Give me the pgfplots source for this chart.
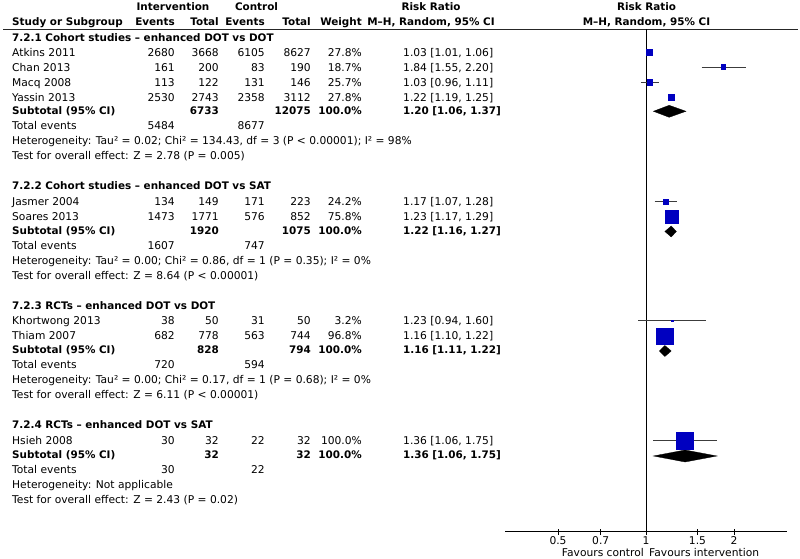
\documentclass[border=0pt]{standalone}
\usepackage{pgfplots}
\pgfplotsset{compat=1.18}
\usepackage{fontspec}
\setmainfont{DejaVu Sans}
\definecolor{rmblue}{RGB}{0,0,192}
\definecolor{cigray}{RGB}{60,60,60}
\newcommand{\fs}{\fontsize{10.7bp}{12bp}\selectfont}
\newcommand{\fb}{\fontsize{10.4bp}{12bp}\selectfont\bfseries}
\newcommand{\study}[8]{%
  \node[tl] at (12,#1) {#2};
  \node[tr] at (175,#1) {#3};
  \node[tr] at (219,#1) {#4};
  \node[tr] at (265,#1) {#5};
  \node[tr] at (311,#1) {#6};
  \node[tr] at (362,#1) {#7};
  \node[tl] at (403,#1) {#8};}
\newcommand{\subtot}[5]{%
  \node[tl,font=\fb] at (12,#1) {Subtotal (95\% CI)};
  \node[tr,font=\fb] at (219,#1) {#2};
  \node[tr,font=\fb] at (311,#1) {#3};
  \node[tr,font=\fb] at (362,#1) {#4};
  \node[tl,font=\fb] at (403,#1) {#5};}
\newcommand{\totev}[3]{%
  \node[tl] at (12,#1) {Total events};
  \node[tr] at (175,#1) {#2};
  \node[tr] at (265,#1) {#3};}
\begin{document}
\begin{tikzpicture}[x=1bp,y=1bp,font=\fs,
  tl/.style={anchor=base west,inner sep=0pt},
  tr/.style={anchor=base east,inner sep=0pt},
  tc/.style={anchor=base,inner sep=0pt}]

\begin{scope}[yshift=559bp,yscale=-1]
% header
\node[tc,font=\fb] at (173,11) {Intervention};
\node[tc,font=\fb] at (256.5,11) {Control};
\node[tc,font=\fb] at (431,11) {Risk Ratio};
\node[tc,font=\fb] at (646.5,11) {Risk Ratio};
\node[tl,font=\fb] at (12,26) {Study or Subgroup};
\node[tr,font=\fb] at (175,26) {Events};
\node[tr,font=\fb] at (219,26) {Total};
\node[tr,font=\fb] at (265,26) {Events};
\node[tr,font=\fb] at (311,26) {Total};
\node[tr,font=\fb] at (362,26) {Weight};
\node[tc,font=\fb] at (431,26) {M–H, Random, 95\% CI};
\node[tc,font=\fb] at (646.5,26) {M–H, Random, 95\% CI};
\draw[line width=1bp,black!85] (3,29.5) -- (798,29.5);

% 7.2.1
\node[tl,font=\fb] at (12,41.5) {7.2.1 Cohort studies – enhanced DOT vs DOT};
\study{56.5}{Atkins 2011}{2680}{3668}{6105}{8627}{27.8\%}{1.03 [1.01, 1.06]}
\study{71.5}{Chan 2013}{161}{200}{83}{190}{18.7\%}{1.84 [1.55, 2.20]}
\study{86.5}{Macq 2008}{113}{122}{131}{146}{25.7\%}{1.03 [0.96, 1.11]}
\study{101.5}{Yassin 2013}{2530}{2743}{2358}{3112}{27.8\%}{1.22 [1.19, 1.25]}
\subtot{114.5}{6733}{12075}{100.0\%}{1.20 [1.06, 1.37]}
\totev{130}{5484}{8677}
\node[tl] at (12,145) {Heterogeneity: Tau² = 0.02; Chi² = 134.43, df = 3 (P < 0.00001); I² = 98\%};
\node[tl] at (12,160) {Test for overall effect: Z = 2.78 (P = 0.005)};

% 7.2.2
\node[tl,font=\fb] at (12,190) {7.2.2 Cohort studies – enhanced DOT vs SAT};
\study{206}{Jasmer 2004}{134}{149}{171}{223}{24.2\%}{1.17 [1.07, 1.28]}
\study{221}{Soares 2013}{1473}{1771}{576}{852}{75.8\%}{1.23 [1.17, 1.29]}
\subtot{234.5}{1920}{1075}{100.0\%}{1.22 [1.16, 1.27]}
\totev{250}{1607}{747}
\node[tl] at (12,265) {Heterogeneity: Tau² = 0.00; Chi² = 0.86, df = 1 (P = 0.35); I² = 0\%};
\node[tl] at (12,280) {Test for overall effect: Z = 8.64 (P < 0.00001)};

% 7.2.3
\node[tl,font=\fb] at (12,310) {7.2.3 RCTs – enhanced DOT vs DOT};
\study{325}{Khortwong 2013}{38}{50}{31}{50}{3.2\%}{1.23 [0.94, 1.60]}
\study{340}{Thiam 2007}{682}{778}{563}{744}{96.8\%}{1.16 [1.10, 1.22]}
\subtot{353.5}{828}{794}{100.0\%}{1.16 [1.11, 1.22]}
\totev{369}{720}{594}
\node[tl] at (12,384) {Heterogeneity: Tau² = 0.00; Chi² = 0.17, df = 1 (P = 0.68); I² = 0\%};
\node[tl] at (12,399) {Test for overall effect: Z = 6.11 (P < 0.00001)};

% 7.2.4
\node[tl,font=\fb] at (12,429) {7.2.4 RCTs – enhanced DOT vs SAT};
\study{445}{Hsieh 2008}{30}{32}{22}{32}{100.0\%}{1.36 [1.06, 1.75]}
\subtot{458.5}{32}{32}{100.0\%}{1.36 [1.06, 1.75]}
\totev{474}{30}{22}
\node[tl] at (12,489) {Heterogeneity: Not applicable};
\node[tl] at (12,504) {Test for overall effect: Z = 2.43 (P = 0.02)};

% favours
\node[anchor=base east,inner sep=0pt] at (644,556.7) {Favours control};
\node[anchor=base west,inner sep=0pt] at (649,556.7) {Favours intervention};
\end{scope}

\begin{axis}[
  at={(505bp,27.3bp)}, anchor=south west,
  scale only axis, width=282bp, height=502.2bp,
  xmode=log, xmin=0.3293, xmax=3.037,
  ymin=27.3, ymax=529.5,
  y filter/.expression={559-y},
  axis x line*=bottom, axis y line=none,
  axis line style={-, black, line width=0.9bp},
  every outer x axis line/.append style={-},
  xtick={0.5,0.7,1,1.5,2}, xticklabels={0.5,0.7,1,1.5,2},
  xminorticks=false,
  tick align=center, major tick length=6bp,
  every tick/.style={black, line width=0.9bp},
  xticklabel style={font=\fs, inner sep=0pt, anchor=base, yshift=-10bp},
  clip=false,
]
% line of no effect
\addplot[black, line width=1bp] coordinates {(1,29.5) (1,531.7)};
% confidence intervals
\addplot[cigray, line width=1bp] coordinates {(1.01,52.7) (1.06,52.7)};
\addplot[cigray, line width=1bp] coordinates {(1.55,67.3) (2.20,67.3)};
\addplot[cigray, line width=1bp] coordinates {(0.96,82.3) (1.11,82.3)};
\addplot[cigray, line width=1bp] coordinates {(1.19,97.3) (1.25,97.3)};
\addplot[cigray, line width=1bp] coordinates {(1.07,202) (1.28,202)};
\addplot[cigray, line width=1bp] coordinates {(1.17,217) (1.29,217)};
\addplot[cigray, line width=1bp] coordinates {(0.94,321) (1.60,321)};
\addplot[cigray, line width=1bp] coordinates {(1.10,336.5) (1.22,336.5)};
\addplot[cigray, line width=1bp] coordinates {(1.06,441) (1.75,441)};
% study estimates (square size ~ weight)
\addplot[only marks, mark=square*, mark size=2.85bp, mark options={fill=rmblue, draw=rmblue, line width=0pt}] coordinates {(1.03,52.7)};
\addplot[only marks, mark=square*, mark size=2.35bp, mark options={fill=rmblue, draw=rmblue, line width=0pt}] coordinates {(1.84,67.3)};
\addplot[only marks, mark=square*, mark size=2.75bp, mark options={fill=rmblue, draw=rmblue, line width=0pt}] coordinates {(1.03,82.3)};
\addplot[only marks, mark=square*, mark size=2.9bp, mark options={fill=rmblue, draw=rmblue, line width=0pt}] coordinates {(1.22,97.3)};
\addplot[only marks, mark=square*, mark size=2.4bp, mark options={fill=rmblue, draw=rmblue, line width=0pt}] coordinates {(1.17,202)};
\addplot[only marks, mark=square*, mark size=6.4bp, mark options={fill=rmblue, draw=rmblue, line width=0pt}] coordinates {(1.23,217)};
\addplot[only marks, mark=square*, mark size=0.8bp, mark options={fill=rmblue, draw=rmblue, line width=0pt}] coordinates {(1.23,321)};
\addplot[only marks, mark=square*, mark size=8.2bp, mark options={fill=rmblue, draw=rmblue, line width=0pt}] coordinates {(1.16,336.5)};
\addplot[only marks, mark=square*, mark size=8.3bp, mark options={fill=rmblue, draw=rmblue, line width=0pt}] coordinates {(1.36,441)};
% pooled estimates (diamonds)
\addplot[fill=black, draw=black, line width=0.3bp] coordinates {(1.06,111.3) (1.20,105.3) (1.37,111.3) (1.20,117.3)} -- cycle;
\addplot[fill=black, draw=black, line width=0.3bp] coordinates {(1.16,231.5) (1.22,226) (1.27,231.5) (1.22,237)} -- cycle;
\addplot[fill=black, draw=black, line width=0.3bp] coordinates {(1.11,351) (1.16,345.5) (1.22,351) (1.16,356.5)} -- cycle;
\addplot[fill=black, draw=black, line width=0.3bp] coordinates {(1.06,456) (1.36,450) (1.75,456) (1.36,462)} -- cycle;
\end{axis}
\pgfresetboundingbox
\useasboundingbox (0,0) rectangle (800,559);
\end{tikzpicture}
\end{document}
